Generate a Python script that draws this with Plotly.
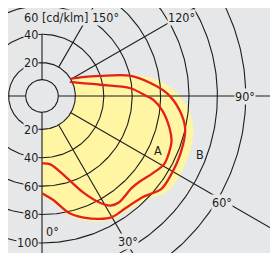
import numpy as np
import plotly.graph_objects as go

# ---------------- data (angle in degrees from nadir, intensity in cd/klm) ----------------
angles_B = [0, 6, 13, 19, 25, 30, 37, 45, 52, 58, 68, 77, 84, 91, 97, 103, 109, 115, 121]
intensity_B = [65, 70, 81, 87, 92, 95, 95, 97, 103, 103, 102, 100, 94, 85, 73, 60, 40, 28, 20]

angles_A = [0, 7, 17, 23, 28.5, 32, 36, 44, 49, 55, 61, 68, 71, 76, 83, 88, 90, 95, 101, 108, 117]
intensity_A = [44, 45, 57, 70, 82, 87.5, 89, 87, 88, 91.5, 95, 94, 93, 89, 82, 75, 70, 59, 38, 26, 18.5]

angles_fill = [0, 6, 13, 19, 25, 30, 37, 45, 52, 58, 68, 77, 84, 91, 97, 103, 109, 115, 121]
intensity_fill = [66, 72, 83, 89, 94, 97, 97, 100, 107, 108.5, 108, 106, 101, 92, 81, 63, 42, 30, 21]

grid_values = [20, 40, 60, 80, 100, 120, 140]
radial_angles = [30, 60, 120, 150]
lower_value_labels = ["20", "40", "60", "80", "100"]
upper_value_labels = ["20", "40"]
angle_labels = ["0°", "30°", "60°", "90°", "120°"]

# ---------------- geometry helpers ----------------
R0 = 3.5            # radial offset of the scale
LUM_R = 8           # luminaire circle (value units)
PX = 1.42           # px per unit
CX, CY = 34, 88     # centre in figure px
W, H = 278, 253

def xy(theta_deg, v):
    t = np.radians(np.asarray(theta_deg, dtype=float))
    r = np.asarray(v, dtype=float) + R0
    return r * np.sin(t), -r * np.cos(t)

GRID = dict(color="#1d1d1b", width=1.1)
RED = "#e3201b"
BG = "#e6e7e8"
FONT = dict(family="Liberation Sans Narrow, Arial Narrow, DejaVu Sans Condensed, sans-serif",
            size=12.5, color="#1d1d1b")

fig = go.Figure()

# yellow light-distribution area (envelope minus inner 20 ring)
fx, fy = xy(angles_fill, intensity_fill)
arc_t = np.linspace(angles_fill[-1], 0, 60)
ax_, ay_ = xy(arc_t, np.full_like(arc_t, grid_values[0]))
fig.add_trace(go.Scatter(x=np.concatenate([fx, ax_]), y=np.concatenate([fy, ay_]),
                         mode="lines", fill="toself", fillcolor="#fff5a3",
                         line=dict(width=0, shape="spline", smoothing=0.8), hoverinfo="skip"))

# grid circles
t = np.linspace(0, 360, 361)
for gv in grid_values + [LUM_R]:
    gx, gy = xy(t, np.full_like(t, gv))
    fig.add_trace(go.Scatter(x=gx, y=gy, mode="lines", line=GRID, hoverinfo="skip"))

# main axes (cross), not inside the luminaire circle
for ang, vmax in [(0, 300), (90, 300), (270, 300), (180, 40)]:
    lx, ly = xy([ang, ang], [LUM_R, vmax])
    fig.add_trace(go.Scatter(x=lx, y=ly, mode="lines", line=GRID, hoverinfo="skip"))

# radial lines
for ang in radial_angles:
    lx, ly = xy([ang, ang], [grid_values[0], 300])
    fig.add_trace(go.Scatter(x=lx, y=ly, mode="lines", line=GRID, hoverinfo="skip"))

# curves
for a, v in [(angles_A, intensity_A), (angles_B, intensity_B)]:
    cx_, cy_ = xy(a, v)
    fig.add_trace(go.Scatter(x=cx_, y=cy_, mode="lines",
                             line=dict(color=RED, width=2.3, shape="spline", smoothing=0.9),
                             hoverinfo="skip"))

ann = []
def label(text, x, y, xanchor="center", xshift=0, yshift=0, bg=BG):
    ann.append(dict(text=text, x=float(x), y=float(y), xref="x", yref="y", showarrow=False,
                    xanchor=xanchor, yanchor="middle", xshift=xshift, yshift=yshift,
                    font=FONT, bgcolor=bg, borderpad=0))

# value labels on vertical axis
for txt, gv in zip(lower_value_labels, grid_values):
    _, yy = xy(0, gv)
    label(txt, 0, yy, xanchor="right", xshift=-3)
for txt, gv in zip(upper_value_labels, grid_values):
    _, yy = xy(180, gv)
    label(txt, 0, yy, xanchor="right", xshift=-3)

# angle labels
pos = {"0°": (0, 92), "30°": (30.5, 115.6), "60°": (59.5, 143.7), "90°": (90, 139.5), "120°": (119.4, 109.6)}
for txt in angle_labels:
    a, v = pos[txt]
    x0, y0 = xy(a, v)
    if txt == "0°":
        label(txt, x0, y0, xanchor="left", xshift=3, bg="rgba(0,0,0,0)")
    else:
        label(txt, x0, y0)

# unit label with 150°
label("60 [cd/klm] 150°", 29 / PX, 79 / PX)

# curve names
for txt, a, v in [("A", 65, 86.6), ("B", 69.7, 115.5)]:
    x0, y0 = xy(a, v)
    label(txt, x0, y0, bg="rgba(0,0,0,0)")

fig.update_layout(
    width=W, height=H, margin=dict(l=0, r=0, t=0, b=0),
    paper_bgcolor="#fcd6ca", plot_bgcolor=BG, showlegend=False,
    annotations=ann,
    xaxis=dict(range=[-CX / PX, (W - CX) / PX], domain=[0, 1],
               visible=False, fixedrange=True),
    yaxis=dict(range=[(CY - H) / PX, CY / PX], domain=[0, 1],
               visible=False, fixedrange=True),
)
fig.write_html("out.html")
